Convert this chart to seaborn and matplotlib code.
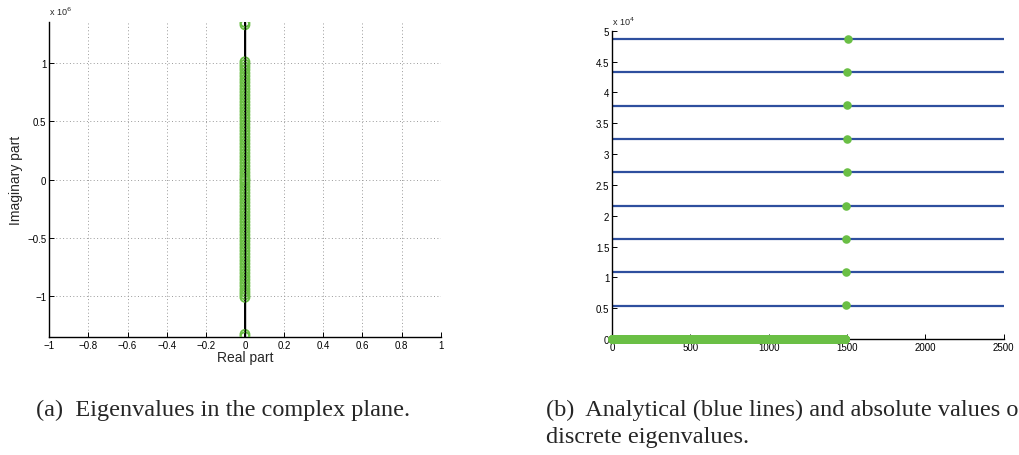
import numpy as np
import matplotlib.pyplot as plt
import seaborn as sns
from matplotlib.ticker import FuncFormatter, MultipleLocator

# eigenvalues in the complex plane (real part is zero for all of them)
imag_pos = [1.352e6, 1.331e6, 1.013e6, 0.991e6, 0.968e6, 0.944e6, 0.915e6, 0.889e6,
            0.861e6, 0.835e6, 0.806e6, 0.779e6, 0.752e6, 0.724e6, 0.697e6, 0.668e6,
            0.641e6, 0.613e6, 0.586e6, 0.558e6, 0.530e6, 0.503e6, 0.475e6, 0.447e6,
            0.420e6, 0.392e6, 0.364e6, 0.337e6, 0.309e6, 0.281e6, 0.254e6, 0.226e6,
            0.198e6, 0.171e6, 0.143e6, 0.115e6, 0.088e6, 0.060e6, 0.033e6, 0.008e6]
imag_neg = [-1.352e6, -1.331e6, -1.013e6, -0.991e6, -0.968e6, -0.944e6, -0.915e6, -0.889e6,
            -0.861e6, -0.835e6, -0.806e6, -0.779e6, -0.752e6, -0.724e6, -0.697e6, -0.668e6,
            -0.641e6, -0.613e6, -0.586e6, -0.558e6, -0.530e6, -0.503e6, -0.475e6, -0.447e6,
            -0.420e6, -0.392e6, -0.364e6, -0.337e6, -0.309e6, -0.281e6, -0.254e6, -0.226e6,
            -0.198e6, -0.171e6, -0.143e6, -0.115e6, -0.088e6, -0.060e6, -0.033e6, -0.008e6]

# analytical eigenvalues (blue lines) and the discrete ones found near index 1500
analytical = [5410, 10820, 16230, 21640, 27050, 32460, 37870, 43280, 48690]
discrete_abs = [5450, 10860, 16250, 21650, 27050, 32480, 37900, 43300, 48700]
discrete_idx = [1491, 1492, 1494, 1496, 1498, 1500, 1501, 1503, 1505]
n_near_zero = 1490  # eigenvalues that sit at ~0 on this scale

green = '#6abf45'
blue = '#2e4f9e'

sns.set_style('white')
plt.rcParams['font.family'] = ['Liberation Sans', 'DejaVu Sans']

fig = plt.figure(figsize=(10.2, 4.56), dpi=100)
ax1 = fig.add_axes([0.0483, 0.258, 0.3837, 0.692])
ax2 = fig.add_axes([0.6, 0.2544, 0.384, 0.676])

# ---- (a) complex plane
imag = np.array(sorted(imag_neg + imag_pos))
real = np.zeros_like(imag)
ax1.plot(real, imag, color='black', lw=1.4, zorder=2)
sns.scatterplot(x=real, y=imag, ax=ax1, marker='o', s=42, facecolor='none',
                edgecolor=green, linewidth=1.3, zorder=3)
ax1.plot(real, imag, color='black', lw=1.0, zorder=4)
ax1.set_xlim(-1, 1)
ax1.set_ylim(-1.357e6, 1.357e6)
ax1.xaxis.set_major_locator(MultipleLocator(0.2))
ax1.yaxis.set_major_locator(MultipleLocator(0.5e6))
ax1.xaxis.set_major_formatter(FuncFormatter(lambda v, p: '0' if abs(v) < 1e-9 else ('%g' % v).replace('-', '\u2212')))
ax1.yaxis.set_major_formatter(FuncFormatter(lambda v, p: ('%g' % (v / 1e6)).replace('-', '\u2212')))
ax1.grid(True, ls=(0, (1, 2.5)), color='#9a9a9a', lw=0.7)
ax1.set_xlabel('Real part', fontsize=10, labelpad=0)
ax1.set_ylabel('Imaginary part', fontsize=10, labelpad=3)
ax1.text(0.0, 1.015, 'x 10$^6$', transform=ax1.transAxes, fontsize=6.5, ha='left', va='bottom')

# ---- (b) analytical vs discrete
idx = np.arange(1, n_near_zero + 1)
sns.scatterplot(x=idx, y=np.zeros(n_near_zero), ax=ax2, color=green, s=40,
                linewidth=0, zorder=3, clip_on=False)
ax2.hlines(analytical, 0, 2500, color=blue, lw=1.6, zorder=2)
sns.scatterplot(x=discrete_idx, y=discrete_abs, ax=ax2, color=green, s=38,
                linewidth=0, zorder=3)
ax2.set_xlim(0, 2500)
ax2.set_ylim(0, 5e4)
ax2.xaxis.set_major_locator(MultipleLocator(500))
ax2.yaxis.set_major_locator(MultipleLocator(0.5e4))
ax2.yaxis.set_major_formatter(FuncFormatter(lambda v, p: '%g' % (v / 1e4)))
ax2.text(0.0, 1.012, 'x 10$^4$', transform=ax2.transAxes, fontsize=6.5, ha='left', va='bottom')

for ax in (ax1, ax2):
    for s in ('top', 'right'):
        ax.spines[s].set_visible(False)
    for s in ('left', 'bottom'):
        ax.spines[s].set_color('black')
        ax.spines[s].set_linewidth(1.0)
    ax.tick_params(direction='in', length=3.5, width=0.7, labelsize=7, pad=2,
                   colors='black', left=True, bottom=True)

# captions
cap = dict(fontsize=17.5, family=['Liberation Serif', 'DejaVu Serif'], va='center', ha='left')
fig.text(36 / 1020, 1 - 410 / 456, '(a)  Eigenvalues in the complex plane.', **cap)
fig.text(546 / 1020, 1 - 410 / 456, '(b)  Analytical (blue lines) and absolute values of the', **cap)
fig.text(546 / 1020, 1 - 438 / 456, 'discrete eigenvalues.', **cap)

fig.savefig('out.png', dpi=100)
